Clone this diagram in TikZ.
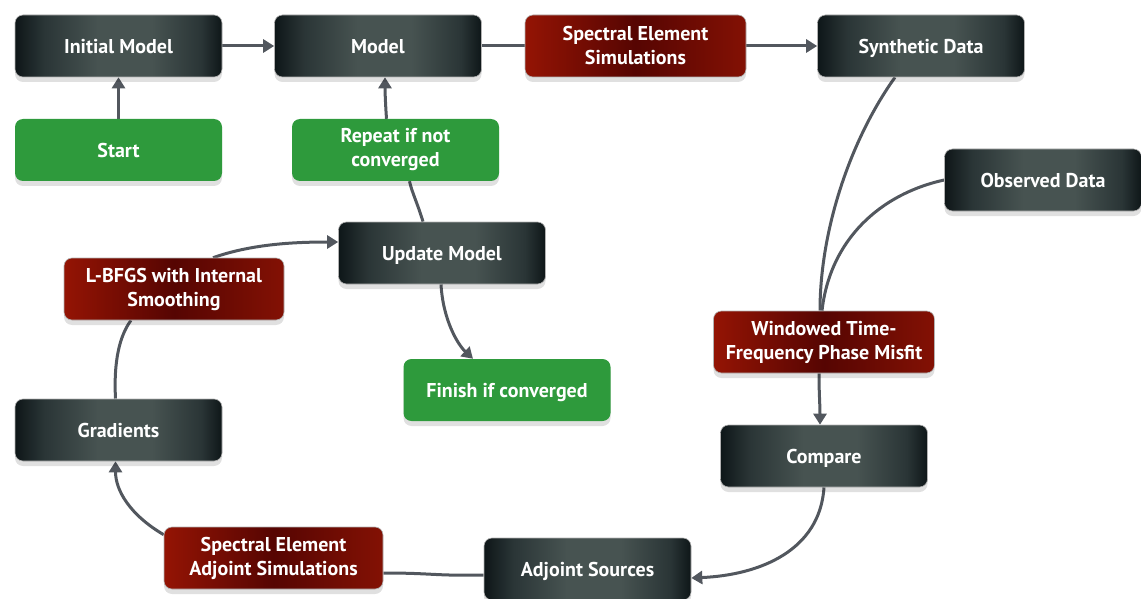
\documentclass[tikz,border=0pt]{standalone}
\usepackage{fontspec}
\setmainfont{PT Sans}
\usetikzlibrary{arrows.meta,shadows,calc}
\pgfdeclarelayer{background}
\pgfsetlayers{background,main}
\definecolor{dkA}{HTML}{0E1618}
\definecolor{dkB}{HTML}{475351}
\definecolor{dkM}{HTML}{2A3536}
\definecolor{rdA}{HTML}{941404}
\definecolor{rdB}{HTML}{560502}
\definecolor{rdC}{HTML}{831104}
\definecolor{gr}{HTML}{2E9A3C}
\definecolor{conncol}{HTML}{52575E}
\pgfdeclarehorizontalshading{darkshade}{100bp}{color(0bp)=(dkA); color(25bp)=(dkA); color(32bp)=(dkM); color(45bp)=(dkB); color(58bp)=(dkB); color(70bp)=(dkM); color(75bp)=(dkA); color(100bp)=(dkA)}
\pgfdeclarehorizontalshading{redshade}{100bp}{color(0bp)=(rdA); color(25bp)=(rdA); color(50bp)=(rdB); color(75bp)=(rdC); color(100bp)=(rdC)}
\tikzset{
  box/.style={rounded corners=8pt, minimum height=62pt, text=white, align=center,
    font=\fontsize{20}{24}\selectfont\bfseries, inner sep=0pt,
    drop shadow={shadow xshift=0pt, shadow yshift=-5pt, opacity=0.12, fill=black}},
  single/.style={text height=15pt, text depth=0pt},
  dark/.style={box, minimum width=207pt, draw=gray!60, line width=0.6pt, shading=darkshade},
  red/.style={box, minimum width=221pt, draw=gray!60, line width=0.6pt, shading=redshade},
  green/.style={box, minimum width=207pt, fill=gr},
  conn/.style={draw=conncol, line width=3pt},
  arr/.style={conn, -{Triangle[length=11pt,width=13pt]}}
}
\begin{document}
\begin{tikzpicture}[x=1pt,y=-1pt]
\useasboundingbox (0,0) rectangle (1141,599);
\node[dark, single] (init) at (118.5,46) {Initial Model};
\node[dark, single] (model) at (378,46) {Model};
\node[red] (ses) at (635.5,46) {Spectral Element\\Simulations};
\node[dark, single] (synth) at (921,46) {Synthetic Data};
\node[green, single] (start) at (118.5,150) {Start};
\node[green] (repeat) at (395.5,150) {Repeat if not\\converged};
\node[dark, single, minimum width=197pt] (obs) at (1043,180) {Observed Data};
\node[dark, single] (update) at (442,253) {Update Model};
\node[red, minimum width=220pt] (lbfgs) at (174,289) {L-BFGS with Internal\\Smoothing};
\node[green, single] (finish) at (507,390) {Finish if converged};
\node[red] (misfit) at (824,342) {Windowed Time-\\Frequency Phase Misfit};
\node[dark, single] (grad) at (118.5,430) {Gradients};
\node[dark, single] (compare) at (824,456) {Compare};
\node[red, minimum width=219pt] (seas) at (273.5,558) {Spectral Element\\Adjoint Simulations};
\node[dark, single] (adj) at (587.5,569) {Adjoint Sources};
\begin{pgfonlayer}{background}
\draw[arr] (init.east) -- (model.west);
\draw[arr] (start.north) -- (init.south);
\draw[conn] (model.east) -- (ses.west);
\draw[arr] (ses.east) -- (synth.west);
\draw[conn] ($(synth.south)+(-26,0)$) .. controls +(-45,63) and +(0,-80) .. ($(misfit.north)+(-4,0)$);
\draw[conn] (obs.west) .. controls +(-64,14) and +(8,-71) .. ($(misfit.north)+(-2,0)$);
\draw[arr] ($(misfit.south)+(-5,0)$) .. controls +(0,20) and +(0,-20) .. ($(compare.north)+(-4,0)$);
\draw[arr] (compare.south) .. controls +(-4,63) and +(69,-3) .. ($(adj.east)+(0,9)$);
\draw[conn] ($(adj.west)+(0,6)$) .. controls +(-50,1) and +(50,0) .. ($(seas.east)+(0,15)$);
\draw[arr] ($(seas.north west)+(0,8)$) .. controls +(-34,-20) and +(0,29) .. ($(grad.south)+(-3,0)$);
\draw[conn] ($(grad.north)+(-3,0)$) .. controls +(-2,-39) and +(-11,15) .. ($(lbfgs.south)+(-43,0)$);
\draw[arr] ($(lbfgs.north)+(39,0)$) .. controls +(37,-13) and +(-48,0) .. ($(update.west)+(0,-11)$);
\draw[conn] ($(update.north)+(-19,0)$) .. controls +(-5,-17) and +(2,10) .. ($(repeat.south)+(14,0)$);
\draw[arr] ($(repeat.north)+(-9,0)$) .. controls +(-1,-14) and +(0,14) .. ($(model.south)+(7,0)$);
\draw[arr] ($(update.south)+(-1,0)$) .. controls +(2,36) and +(-15,-14) .. ($(finish.north)+(-34,0)$);
\end{pgfonlayer}
\end{tikzpicture}
\end{document}
